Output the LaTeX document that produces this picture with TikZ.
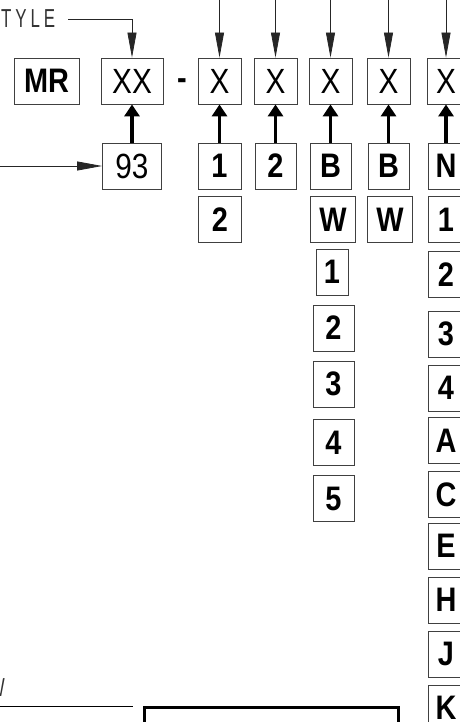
\documentclass[tikz,border=0pt]{standalone}
\usepackage{fontspec}
\setmainfont{Liberation Sans}
\newfontfamily\cadfont[FakeStretch=0.85]{Liberation Sans}
\newfontfamily\cadthin[FakeStretch=0.65,LetterSpace=15]{Liberation Sans}
\usetikzlibrary{positioning, arrows.meta}

\begin{document}
\begin{tikzpicture}[
    x=1pt, y=-1pt,
    box/.style={
        draw=black!75, line width=0.8pt, minimum width=43pt, minimum height=46pt,
        inner sep=0pt, font=\cadfont\fontsize{35}{35}\selectfont
    },
    bbox/.style={box, font=\cadfont\bfseries\fontsize{34}{34}\selectfont},
    darr/.style={-{Triangle[length=25pt,width=9pt]}, line width=0.8pt, draw=black!85},
    uarr/.style={-{Triangle[length=12pt,width=15pt]}, line width=3.4pt},
    thinlbl/.style={font=\cadthin\fontsize{26}{26}\selectfont, text=black!80, inner sep=0pt},
]

% frame of the sheet
\useasboundingbox (0,0) rectangle (459,722);

% =============================================
% TOP ROW: part number code
% =============================================
\node[bbox, minimum width=65pt] (mr) at (46.5,81) {MR};
\node[box, minimum width=62pt] (xx) at (132,81) {XX};
\node[font=\cadfont\bfseries\fontsize{34}{34}\selectfont, inner sep=0pt] (dash) at (182,84) {-};
\node[box] (x1) at (219.5,81) {X};
\node[box] (x2) at (275.5,81) {X};
\node[box] (x3) at (330.5,81) {X};
\node[box] (x4) at (388.5,81) {X};
\node[box, minimum width=38pt] (x5) at (446,81) {X};

% =============================================
% OPTIONS (one column under each place)
% =============================================
\node[box, minimum width=59pt] (n93) at (132,166) {93};

% first place
\node[bbox] (c1a) at (219.5,166) {1};
\node[bbox] (c1b) at (220,219.5) {2};

% second place
\node[bbox, minimum width=41pt] (c2a) at (275.5,166) {2};

% third place
\node[bbox, minimum width=41pt] (c3a) at (330.5,166) {B};
\node[bbox, minimum width=45pt] (c3b) at (333,219.5) {W};
\node[bbox, minimum width=32pt] (c3c) at (332,272) {1};
\foreach \y/\t [count=\i from 4] in {328/2, 384/3, 442.5/4, 498.5/5}
    \node[bbox, minimum width=41pt] (c3\i) at (333.5,\y) {\t};

% fourth place
\node[bbox, minimum width=41pt] (c4a) at (388.5,166) {B};
\node[bbox, minimum width=45pt] (c4b) at (390,219.5) {W};

% fifth place
\node[bbox, minimum width=36pt] (c5a) at (446,166) {N};
\foreach \y/\t [count=\i] in {219.5/1, 274.5/2, 334/3, 388/4, 440.5/A,
                               494.5/C, 546/E, 600/H, 654/J, 708/K}
    \node[bbox, minimum width=36pt] (c5\i) at (446,\y) {\t};

% =============================================
% CONNECTORS
% =============================================
% leaders coming in from the top edge
\foreach \n in {x1,x2,x3,x4,x5} {
    \coordinate[above=62pt of \n.north] (\n top);
    \draw[darr] (\n top) -- (\n.north);
}

% chosen option feeds its place
\foreach \a/\b in {n93/xx, c1a/x1, c2a/x2, c3a/x3, c4a/x4, c5a/x5}
    \draw[uarr] (\a.north) -- (\b.south);

% style leader
\node[thinlbl, anchor=west] (stylelbl) at (1,19) {TYLE};
\coordinate (styleout) at (68,19);
\draw[darr] (styleout) -| (xx.north);

% leader into 93
\coordinate[left=106pt of n93.west] (lotin);
\draw[darr] (lotin) -- (n93.west);

% =============================================
% BOTTOM: view leader and detail frame
% =============================================
\node[thinlbl, anchor=east] (viewlbl) at (5,688) {W};
\coordinate (leadL) at (-2,706);
\coordinate (leadR) at (133,706);
\draw[line width=0.8pt] (leadL) -- (leadR);
\node[draw, line width=3pt, minimum width=254pt, minimum height=60pt,
      anchor=north west] (detail) at (143,706) {};

\end{tikzpicture}
\end{document}
